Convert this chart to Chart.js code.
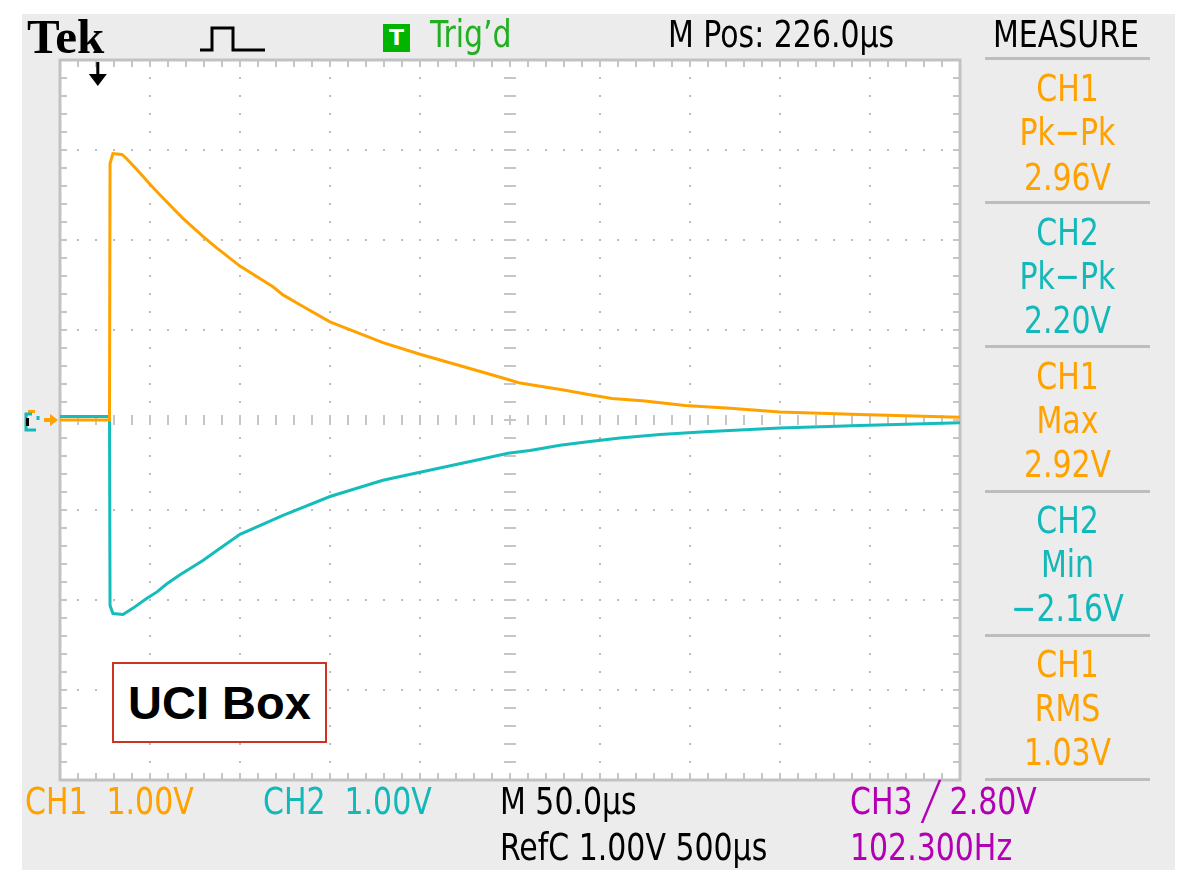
<!DOCTYPE html>
<html>
<head>
<meta charset="utf-8">
<script src="https://cdn.jsdelivr.net/npm/chart.js@4.4.1/dist/chart.umd.min.js"></script>
<style>
  body { margin: 0; background: #fff; }
  #wrap { position: relative; width: 1187px; height: 872px; overflow: hidden; }
  #panel { position: absolute; left: 22px; top: 14px; width: 1153px; height: 856px; background: #ececec; }
  canvas { position: absolute; left: 0; top: 0; }
  .t { position: absolute; white-space: nowrap; line-height: 1; font-family: 'Liberation Sans Narrow', 'DejaVu Sans Condensed', sans-serif; font-size: 37px;
       transform: scaleX(0.9); transform-origin: 0 0; }
  .c { width: 165px; left: 985px; text-align: center; transform-origin: 50% 0; }
  .sep { position: absolute; left: 985px; width: 165px; height: 3px; background: #bdbdbd; }
  .or { color: #ffa200; }
  .cy { color: #14b8b8; }
  .mg { color: #b400b4; }
  #uci { position: absolute; left: 112px; top: 662px; width: 211px; height: 77px; border: 2px solid #cc3322; background: #fff;
         font: bold 47px 'Liberation Sans', Arial, sans-serif; text-align: center; line-height: 77px; color: #000; }
</style>
</head>
<body>
<div id="wrap">
  <div id="panel"></div>
  <canvas id="scope" width="1187" height="872"></canvas>

  <div style="position:absolute;left:27px;top:12px;font:bold 49px 'Liberation Serif','DejaVu Serif',serif;line-height:1;">Tek</div>
  <svg style="position:absolute;left:195px;top:20px" width="75" height="36">
    <polyline points="5,30 17,30 17,8 38,8 38,30 70,30" fill="none" stroke="#000" stroke-width="3"/>
  </svg>
  <div style="position:absolute;left:383px;top:24px;width:27px;height:28px;background:#00b400;color:#fff;font:bold 22px 'DejaVu Sans',sans-serif;text-align:center;line-height:28px;">T</div>
  <div class="t" style="left:430px;top:16px;color:#22b022;">Trig’d</div>
  <div class="t" style="left:668px;top:16px;">M Pos: 226.0µs</div>
  <div class="t" style="left:993px;top:16px;">MEASURE</div>

  <div class="sep" style="top:57px"></div>
  <div class="t c or" style="top:70px">CH1</div>
  <div class="t c or" style="top:114px">Pk−Pk</div>
  <div class="t c or" style="top:159px">2.96V</div>
  <div class="sep" style="top:201px"></div>
  <div class="t c cy" style="top:214px">CH2</div>
  <div class="t c cy" style="top:258px">Pk−Pk</div>
  <div class="t c cy" style="top:302px">2.20V</div>
  <div class="sep" style="top:345px"></div>
  <div class="t c or" style="top:358px">CH1</div>
  <div class="t c or" style="top:402px">Max</div>
  <div class="t c or" style="top:446px">2.92V</div>
  <div class="sep" style="top:490px"></div>
  <div class="t c cy" style="top:502px">CH2</div>
  <div class="t c cy" style="top:546px">Min</div>
  <div class="t c cy" style="top:590px">−2.16V</div>
  <div class="sep" style="top:634px"></div>
  <div class="t c or" style="top:646px">CH1</div>
  <div class="t c or" style="top:690px">RMS</div>
  <div class="t c or" style="top:734px">1.03V</div>
  <div class="sep" style="top:778px"></div>

  <div class="t or" style="left:25px;top:783px">CH1 &nbsp;1.00V</div>
  <div class="t cy" style="left:263px;top:783px">CH2 &nbsp;1.00V</div>
  <div class="t" style="left:500px;top:783px">M 50.0µs</div>
  <div class="t mg" style="left:850px;top:783px">CH3 ╱ 2.80V</div>
  <div class="t" style="left:500px;top:829px">RefC 1.00V 500µs</div>
  <div class="t mg" style="left:850px;top:829px">102.300Hz</div>

  <div id="uci">UCI Box</div>
</div>

<script>
// time in microseconds (50 us/div), volts at 1 V/div
const ch1Time = [0, 27.5, 27.8, 29.4, 34.4, 37.2, 42.8, 50, 55.6, 68.3, 79.4, 87.2, 100, 118.3, 123.9, 133.3, 150, 179.4, 200, 235, 248.9, 255.6, 280.6, 294.4, 306.7, 325, 347.2, 372.2, 400, 444.4, 500]
const ch1Volts = [0, 0, 2.85, 2.96, 2.95, 2.9, 2.78, 2.62, 2.5, 2.24, 2.04, 1.91, 1.71, 1.48, 1.39, 1.28, 1.09, 0.86, 0.73, 0.53, 0.45, 0.41, 0.33, 0.28, 0.24, 0.21, 0.16, 0.13, 0.09, 0.06, 0.03]

const ch2Time = [0, 27.5, 27.8, 29.4, 35, 40.6, 48.3, 53.9, 59.4, 66.7, 79.4, 87.2, 100, 123.9, 150, 179.4, 200, 235, 248.9, 261.1, 277.8, 294.4, 311.1, 333.3, 358.3, 400, 444.4, 500]
const ch2Volts = [0.04, 0.04, -2.06, -2.15, -2.16, -2.09, -1.98, -1.91, -1.82, -1.72, -1.56, -1.45, -1.27, -1.06, -0.85, -0.67, -0.58, -0.43, -0.37, -0.34, -0.28, -0.24, -0.2, -0.16, -0.13, -0.09, -0.06, -0.03]

const timeLimits = [0, 500]
const voltLimits = [-4, 4]
const triggerTime = 21

const toPoints = (xs, ys) => xs.map((x, i) => ({ x: x, y: ys[i] }))

const scopeDecor = {
    id: 'scopeDecor',
    beforeDraw(chart) {
        const a = chart.chartArea
        const ctx = chart.ctx
        ctx.save()
        ctx.fillStyle = '#fff'
        ctx.fillRect(a.left, a.top, a.right - a.left, a.bottom - a.top)
        ctx.restore()
    },
    beforeDatasetsDraw(chart) {
        const a = chart.chartArea
        const ctx = chart.ctx
        const xs = chart.scales.x
        const ys = chart.scales.y
        const x0 = xs.getPixelForValue(250)
        const y0 = ys.getPixelForValue(0)
        ctx.save()
        ctx.strokeStyle = '#c6c6c6'
        ctx.lineWidth = 2
        ctx.beginPath()
        for (let t = 0; t <= 500; t += 10) {
            const x = xs.getPixelForValue(t)
            ctx.moveTo(x, y0 - 5); ctx.lineTo(x, y0 + 5)
            ctx.moveTo(x, a.top); ctx.lineTo(x, a.top + 7)
            ctx.moveTo(x, a.bottom - 7); ctx.lineTo(x, a.bottom)
        }
        for (let i = -20; i <= 20; i++) {
            const y = ys.getPixelForValue(i * 0.2)
            ctx.moveTo(x0 - 6, y); ctx.lineTo(x0 + 6, y)
            ctx.moveTo(a.left, y); ctx.lineTo(a.left + 7, y)
            ctx.moveTo(a.right - 7, y); ctx.lineTo(a.right, y)
        }
        ctx.stroke()
        ctx.lineWidth = 3
        ctx.strokeStyle = '#c2c2c2'
        ctx.strokeRect(a.left, a.top, a.right - a.left, a.bottom - a.top)
        ctx.restore()
    },
    afterDraw(chart) {
        const ctx = chart.ctx
        const a = chart.chartArea
        const xt = chart.scales.x.getPixelForValue(triggerTime)
        const y0 = chart.scales.y.getPixelForValue(0)
        ctx.save()
        // trigger position marker
        ctx.fillStyle = '#000'
        ctx.fillRect(xt - 1.5, a.top + 2, 3, 14)
        ctx.beginPath()
        ctx.moveTo(xt - 9, a.top + 14); ctx.lineTo(xt + 9, a.top + 14); ctx.lineTo(xt, a.top + 26)
        ctx.closePath(); ctx.fill()
        // ground level markers
        ctx.fillStyle = '#ffa200'
        ctx.beginPath()
        ctx.moveTo(a.left - 2, y0); ctx.lineTo(a.left - 10, y0 - 6); ctx.lineTo(a.left - 10, y0 + 6)
        ctx.closePath(); ctx.fill()
        ctx.fillRect(a.left - 16, y0 - 2, 7, 4)
        ctx.fillRect(a.left - 32, y0 - 10, 7, 3)
        ctx.strokeStyle = '#14b8b8'
        ctx.lineWidth = 3
        ctx.beginPath()
        ctx.moveTo(a.left - 28, y0 - 6); ctx.lineTo(a.left - 34, y0 - 6); ctx.lineTo(a.left - 34, y0 + 10); ctx.lineTo(a.left - 24, y0 + 10)
        ctx.moveTo(a.left - 22, y0 - 4); ctx.lineTo(a.left - 22, y0)
        ctx.stroke()
        ctx.fillStyle = '#000'
        ctx.fillRect(a.left - 34, y0 - 2, 3, 8)
        ctx.restore()
    }
}

const ctx = document.getElementById('scope').getContext('2d')
new Chart(ctx, {
    type: 'line',
    data: {
        datasets: [{
            label: 'CH1',
            data: toPoints(ch1Time, ch1Volts),
            borderColor: 'rgb(255, 162, 0)',
            borderWidth: 3,
            pointRadius: 0,
            tension: 0
        }, {
            label: 'CH2',
            data: toPoints(ch2Time, ch2Volts),
            borderColor: 'rgb(20, 188, 188)',
            borderWidth: 3,
            pointRadius: 0,
            tension: 0
        }]
    },
    options: {
        responsive: false,
        animation: false,
        layout: { padding: { left: 60, top: 60, right: 227, bottom: 92 } },
        plugins: { legend: { display: false }, tooltip: { enabled: false } },
        scales: {
            x: {
                type: 'linear',
                min: timeLimits[0],
                max: timeLimits[1],
                ticks: { display: false, stepSize: 50 },
                border: { display: false, dash: [2, 16], dashOffset: 1 },
                grid: {
                    drawTicks: false,
                    lineWidth: 2,
                    color: c => [0, 250, 500].includes(c.tick.value) ? 'rgba(0,0,0,0)' : '#bcbcbc'
                }
            },
            y: {
                min: voltLimits[0],
                max: voltLimits[1],
                ticks: { display: false, stepSize: 1 },
                border: { display: false, dash: [2, 16], dashOffset: 1 },
                grid: {
                    drawTicks: false,
                    lineWidth: 2,
                    color: c => [-4, 0, 4].includes(c.tick.value) ? 'rgba(0,0,0,0)' : '#bcbcbc'
                }
            }
        }
    },
    plugins: [scopeDecor]
})
</script>
</body>
</html>
